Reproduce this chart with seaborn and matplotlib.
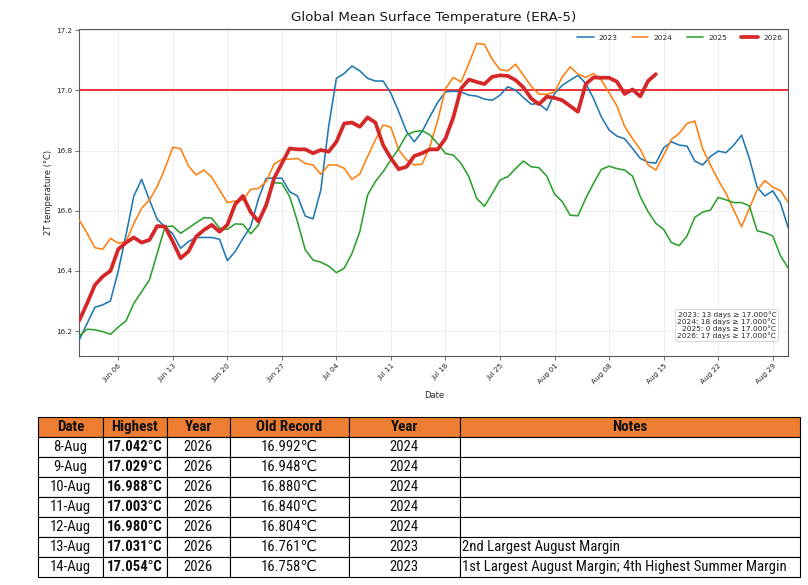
import numpy as np
import pandas as pd
import matplotlib
matplotlib.use("Agg")
import matplotlib.pyplot as plt
import matplotlib.dates as mdates
from matplotlib import font_manager as fm
import seaborn as sns

# ---------------- data ----------------
start_date = "2026-06-01"
end_date = "2026-08-31"

t2023 = [16.171, 16.225, 16.279, 16.287, 16.300, 16.400, 16.520, 16.649, 16.704, 16.636,
         16.571, 16.547, 16.523, 16.475, 16.497, 16.511, 16.511, 16.511, 16.505, 16.434,
         16.464, 16.508, 16.547, 16.640, 16.708, 16.708, 16.708, 16.663, 16.649, 16.582,
         16.573, 16.669, 16.879, 17.040, 17.056, 17.081, 17.065, 17.040, 17.031, 17.031,
         16.990, 16.929, 16.863, 16.829, 16.863, 16.913, 16.960, 16.995, 16.997, 16.995,
         16.984, 16.981, 16.971, 16.967, 16.984, 17.012, 17.001, 16.976, 16.954, 16.956,
         16.934, 16.990, 17.017, 17.034, 17.050, 17.023, 16.973, 16.912, 16.868, 16.848,
         16.839, 16.807, 16.774, 16.761, 16.758, 16.809, 16.829, 16.818, 16.815, 16.765,
         16.752, 16.780, 16.798, 16.793, 16.818, 16.851, 16.774, 16.678, 16.649, 16.666,
         16.625, 16.542]

t2024 = [16.569, 16.525, 16.477, 16.472, 16.508, 16.492, 16.497, 16.558, 16.608, 16.636,
         16.680, 16.741, 16.811, 16.806, 16.749, 16.719, 16.735, 16.711, 16.669, 16.627,
         16.632, 16.636, 16.671, 16.674, 16.697, 16.755, 16.771, 16.771, 16.774, 16.757,
         16.752, 16.721, 16.752, 16.752, 16.741, 16.704, 16.722, 16.780, 16.835, 16.885,
         16.877, 16.802, 16.769, 16.752, 16.755, 16.813, 16.900, 17.006, 17.043, 17.028,
         17.089, 17.156, 17.153, 17.103, 17.069, 17.065, 17.087, 17.050, 17.014, 16.987,
         16.987, 16.995, 17.045, 17.078, 17.054, 17.043, 17.056, 17.034, 16.992, 16.948,
         16.880, 16.840, 16.804, 16.752, 16.735, 16.785, 16.837, 16.857, 16.890, 16.898,
         16.807, 16.752, 16.702, 16.658, 16.602, 16.547, 16.608, 16.669, 16.700, 16.678,
         16.667, 16.627]

t2025 = [16.184, 16.206, 16.204, 16.198, 16.189, 16.213, 16.234, 16.292, 16.331, 16.370,
         16.458, 16.547, 16.549, 16.525, 16.542, 16.560, 16.577, 16.575, 16.542, 16.538,
         16.556, 16.555, 16.523, 16.553, 16.630, 16.693, 16.691, 16.647, 16.564, 16.470,
         16.436, 16.429, 16.416, 16.394, 16.409, 16.458, 16.530, 16.652, 16.697, 16.730,
         16.769, 16.807, 16.852, 16.863, 16.866, 16.852, 16.823, 16.790, 16.785, 16.757,
         16.713, 16.641, 16.615, 16.657, 16.702, 16.713, 16.740, 16.765, 16.746, 16.743,
         16.715, 16.655, 16.630, 16.585, 16.583, 16.641, 16.691, 16.737, 16.748, 16.740,
         16.735, 16.715, 16.647, 16.597, 16.558, 16.538, 16.494, 16.484, 16.516, 16.578,
         16.595, 16.602, 16.644, 16.636, 16.627, 16.627, 16.616, 16.533, 16.527, 16.516,
         16.450, 16.409]

t2026 = [16.235, 16.292, 16.353, 16.381, 16.400, 16.472, 16.494, 16.511, 16.494, 16.503,
         16.549, 16.547, 16.497, 16.442, 16.464, 16.514, 16.536, 16.553, 16.530, 16.553,
         16.621, 16.649, 16.595, 16.564, 16.619, 16.708, 16.757, 16.807, 16.804, 16.804,
         16.791, 16.802, 16.796, 16.829, 16.890, 16.893, 16.879, 16.910, 16.893, 16.818,
         16.774, 16.738, 16.746, 16.782, 16.791, 16.804, 16.804, 16.840, 16.910, 17.006,
         17.036, 17.028, 17.021, 17.045, 17.050, 17.048, 17.034, 17.010, 16.973, 16.954,
         16.979, 16.975, 16.967, 16.948, 16.929, 17.021, 17.043, 17.042, 17.042, 17.029,
         16.988, 17.003, 16.980, 17.031, 17.054]

years = ["2023", "2024", "2025", "2026"]
series = [t2023, t2024, t2025, t2026]
colors = ["#1f77b4", "#ff7f0e", "#2ca02c", "#d62728"]
threshold = 17.0

tick_dates = ["2026-06-06", "2026-06-13", "2026-06-20", "2026-06-27", "2026-07-04",
              "2026-07-11", "2026-07-18", "2026-07-25", "2026-08-01", "2026-08-08",
              "2026-08-15", "2026-08-22", "2026-08-29"]

tbl_cols = ["Date", "Highest", "Year", "Old Record", "Year", "Notes"]
tbl_date = ["8-Aug", "9-Aug", "10-Aug", "11-Aug", "12-Aug", "13-Aug", "14-Aug"]
tbl_high = ["17.042°C", "17.029°C", "16.988°C", "17.003°C", "16.980°C", "17.031°C", "17.054°C"]
tbl_year = ["2026"] * 7
tbl_old = ["16.992℃", "16.948℃", "16.880℃", "16.840℃", "16.804℃", "16.761℃", "16.758℃"]
tbl_oldyear = ["2024", "2024", "2024", "2024", "2024", "2023", "2023"]
tbl_notes = ["", "", "", "", "", "2nd Largest August Margin",
             "1st Largest August Margin; 4th Highest Summer Margin"]

# ---------------- style ----------------
sns.set_style("white", {"axes.edgecolor": "0.35"})
plt.rcParams["font.family"] = ["DejaVu Sans"]

names = {f.name for f in fm.fontManager.ttflist}
table_font = None
for cand in ["Liberation Sans Narrow", "Roboto Condensed", "Open Sans Condensed"]:
    if cand in names:
        table_font = cand
        break
if table_font is None:
    table_family = ["DejaVu Sans"]
    table_stretch = "condensed"
else:
    table_family = [table_font, "DejaVu Sans"]
    table_stretch = "normal"

W, H = 808, 585
fig = plt.figure(figsize=(W / 100, H / 100), dpi=100)
ax = fig.add_axes([79.3 / W, 1 - 355.7 / H, 709 / W, 326.7 / H])

rows = []
for y, vals in zip(years, series):
    d = pd.date_range(start_date, periods=len(vals), freq="D")
    rows.append(pd.DataFrame({"date": d, "temp": vals, "year": y}))
df = pd.concat(rows, ignore_index=True)

for y, c in zip(years, colors):
    sub = df[df["year"] == y]
    lw = 2.7 if y == "2026" else 1.15
    sns.lineplot(data=sub, x="date", y="temp", color=c, lw=lw, label=y, ax=ax,
                 zorder=4 if y == "2026" else 3)

ax.axhline(threshold, color="#e8232a", lw=1.3, zorder=2)

ax.set_xlim(pd.Timestamp(start_date), pd.Timestamp(end_date))
ax.set_ylim(16.118, 17.204)
ax.set_xticks(pd.to_datetime(tick_dates))
ax.xaxis.set_major_formatter(mdates.DateFormatter("%b %d"))
ax.set_yticks([16.2, 16.4, 16.6, 16.8, 17.0, 17.2])
ax.tick_params(axis="both", labelsize=5.2, bottom=True, left=True, length=3,
               width=0.6, color="0.35", pad=2, labelcolor="0.15")
plt.setp(ax.get_xticklabels(), rotation=45, ha="right", rotation_mode="anchor")
ax.grid(True, color="0.92", lw=0.6)
for s in ax.spines.values():
    s.set_linewidth(0.8)

ax.set_xlabel("Date", fontsize=6, color="0.15", labelpad=4)
ax.set_ylabel("2T temperature (°C)", fontsize=6, color="0.15", labelpad=2)
ax.set_title("Global Mean Surface Temperature (ERA-5)", fontsize=9.7, color="0.1", pad=6)

leg = ax.legend(loc="upper right", ncol=4, frameon=False, fontsize=5.3,
                handlelength=2.3, columnspacing=1.9, handletextpad=0.7,
                borderaxespad=0.4)

counts = [int(np.sum(np.array(v) >= threshold)) for v in series]
box_text = "\n".join(f"{y}: {n} days ≥ {threshold:.3f}°C" for y, n in zip(years, counts))
ax.text(0.983, 0.05, box_text, transform=ax.transAxes, ha="right", va="bottom",
        multialignment="right", fontsize=5.3, color="0.15", linespacing=1.05,
        bbox=dict(boxstyle="round,pad=0.3", fc="white", ec="0.8", lw=0.6, alpha=0.9),
        zorder=6)

# ---------------- table ----------------
tax = fig.add_axes([38 / W, 1 - 577 / H, 762 / W, 160 / H])
tax.axis("off")
cell_text = [list(r) for r in zip(tbl_date, tbl_high, tbl_year, tbl_old, tbl_oldyear, tbl_notes)]
col_px = [64.7, 64, 63.3, 119, 110.6, 340.4]
col_w = [c / sum(col_px) for c in col_px]
tbl = tax.table(cellText=cell_text, colLabels=tbl_cols, colWidths=col_w,
                cellLoc="center", loc="center", bbox=[0, 0, 1, 1])
tbl.auto_set_font_size(False)
for (r, c), cell in tbl.get_celld().items():
    cell.set_edgecolor("black")
    cell.set_linewidth(0.8)
    txt = cell.get_text()
    txt.set_fontfamily(table_family)
    txt.set_fontstretch(table_stretch)
    txt.set_fontsize(10.8 if r == 0 else 10.6)
    txt.set_color("#111111")
    if r == 0:
        cell.set_facecolor("#ED7D31")
        txt.set_fontweight("bold")
    else:
        cell.set_facecolor("white")
        if c == 1:
            txt.set_fontweight("bold")
        if c == 5:
            cell._loc = "left"
            cell.PAD = 0.006
            txt.set_horizontalalignment("left")

fig.savefig("out.png", dpi=100)
